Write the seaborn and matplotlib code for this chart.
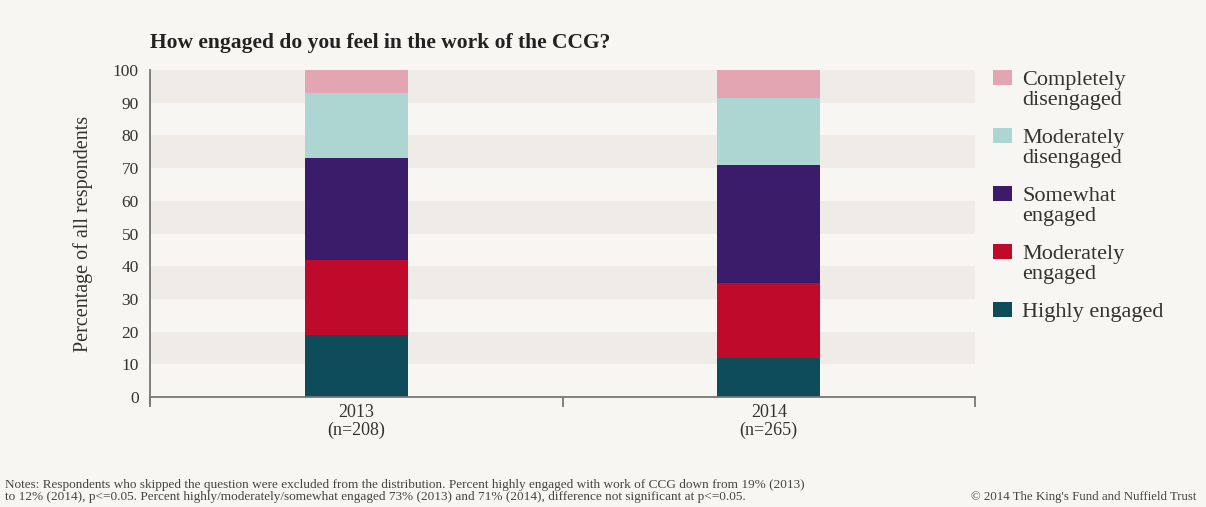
import matplotlib
matplotlib.use("Agg")
import matplotlib.pyplot as plt
from matplotlib.patches import Rectangle
import seaborn as sns
import numpy as np
import pandas as pd

# ---- data ----
years = ["2013", "2014"]
year_labels = ["2013\n(n=208)", "2014\n(n=265)"]
categories = ["Highly engaged", "Moderately engaged", "Somewhat engaged",
              "Moderately disengaged", "Completely disengaged"]
legend_labels = ["Highly engaged", "Moderately\nengaged", "Somewhat\nengaged",
                 "Moderately\ndisengaged", "Completely\ndisengaged"]
highly = [19, 12]
moderately = [23, 23]
somewhat = [31, 36]
mod_dis = [20, 20.5]
comp_dis = [7, 8.5]
colors = ["#0f4c5a", "#c00a2c", "#3a1c6b", "#add6d2", "#e4a5b3"]
yticks = list(range(0, 101, 10))

title = "How engaged do you feel in the work of the CCG?"
ylabel = "Percentage of all respondents"
notes = ("Notes: Respondents who skipped the question were excluded from the distribution. "
         "Percent highly engaged with work of CCG down from 19% (2013)\n"
         "to 12% (2014), p<=0.05. Percent highly/moderately/somewhat engaged 73% (2013) "
         "and 71% (2014), difference not significant at p<=0.05.")
credit = "© 2014 The King's Fund and Nuffield Trust"

sns.set_theme(style="white")
plt.rcParams["font.family"] = ["Liberation Serif", "DejaVu Serif"]

W, H = 1206, 507
bg = "#f8f6f3"
band = "#efece8"
fig = plt.figure(figsize=(W / 100, H / 100), dpi=100, facecolor=bg)
ax = fig.add_axes([150 / W, 1 - 397 / H, (975 - 150) / W, (397 - 70) / H])
ax.set_facecolor(bg)

for y0 in range(10, 100, 20):
    ax.axhspan(y0, y0 + 10, color=band, lw=0, zorder=0)

series = [highly, moderately, somewhat, mod_dis, comp_dis]
df = pd.DataFrame({"year": years})
bottom = np.zeros(len(years))
for cat, vals, col in zip(categories, series, colors):
    df[cat] = vals
    sns.barplot(data=df, x="year", y=cat, color=col, width=0.25,
                bottom=bottom.copy(), ax=ax, zorder=2, linewidth=0, saturation=1)
    bottom += np.array(vals)

ax.set_xlim(-0.5, 1.5)
ax.set_ylim(0, 100)
ax.set_yticks(yticks)
ax.set_yticklabels([str(t) for t in yticks], fontsize=12.5, color="#333333")
ax.set_xticks([0, 1])
ax.set_xticklabels(year_labels, fontsize=13, color="#333333", linespacing=1.05)
ax.set_xticks([-0.5, 0.5, 1.5], minor=True)
ax.tick_params(axis="x", which="major", length=0, pad=5)
ax.tick_params(axis="x", which="minor", bottom=True, length=7, width=1.3,
               color="#777777", direction="out")
ax.tick_params(axis="y", length=0, pad=8)
ax.set_xlabel("")
ax.set_ylabel(ylabel, fontsize=14.5, color="#333333", labelpad=14)
for s in ["top", "right"]:
    ax.spines[s].set_visible(False)
for s in ["left", "bottom"]:
    ax.spines[s].set_color("#777777")
    ax.spines[s].set_linewidth(1.3)
ax.spines["left"].set_bounds(-2, 100)

fig.text(150 / W, 1 - 43 / H, title, fontsize=15.5, fontweight="bold",
         color="#222222", va="center", ha="left")

# legend, drawn top to bottom, swatch aligned with first text line
for i, (lab, col) in enumerate(zip(legend_labels[::-1], colors[::-1])):
    ytop = 70 + i * 58
    fig.patches.append(Rectangle((993 / W, 1 - (ytop + 15) / H), 19 / W, 15 / H,
                                 transform=fig.transFigure, facecolor=col,
                                 edgecolor="none"))
    fig.text(1022 / W, 1 - (ytop + 1) / H, lab, fontsize=16, color="#333333",
             va="top", ha="left", linespacing=1.1)

fig.text(5 / W, 1 - 491 / H, notes, fontsize=9.5, color="#444444",
         va="center", ha="left", linespacing=1.1)
fig.text(1196 / W, 1 - 497 / H, credit, fontsize=9.3, color="#444444",
         va="center", ha="right")

fig.savefig("out.png", dpi=100, facecolor=bg)
